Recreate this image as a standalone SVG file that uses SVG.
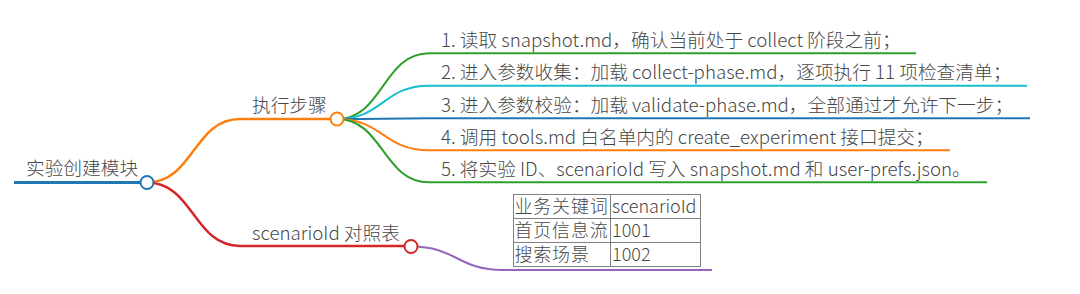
<svg xmlns="http://www.w3.org/2000/svg" width="1080" height="294" viewBox="0 0 1080 294">
<style>
text{font-family:"Noto Sans CJK SC","Noto Sans",sans-serif;fill:#474747;font-size:18.7px;font-weight:300}
.tb{font-size:18px;letter-spacing:0.8px}
.tl{font-size:18px}
.c{fill:#fff;stroke-width:2}
path{fill:none}
.l0{stroke-width:3}
.l1{stroke-width:2.5}
.l2{stroke-width:2}
.grid{stroke:#808080;stroke-width:1;fill:none}
</style>
<rect width="1080" height="294" fill="#fff"/>
<g id="connectors">
<path class="l1" stroke="#ff7f0e" d="M147,182.5 C193.5,182.5 193.5,119 240,119"/>
<path class="l1" stroke="#d62728" d="M147,182.5 C193.5,182.5 193.5,246 240,246"/>
<path class="l2" stroke="#2ca02c" d="M337,119 C383,119 383,53.3 429,53.3"/>
<path class="l2" stroke="#17becf" d="M337,119 C383,119 383,85.7 429,85.7"/>
<path class="l2" stroke="#1f77b4" d="M337,119 C383,119 383,118.3 429,118.3"/>
<path class="l2" stroke="#ff7f0e" d="M337,119 C383,119 383,150.3 429,150.3"/>
<path class="l2" stroke="#2ca02c" d="M337,119 C383,119 383,182.3 429,182.3"/>
<path class="l2" stroke="#9467bd" d="M411,246.5 C457,246.5 457,270 503,270"/>
</g>
<g id="root">
<path class="l0" stroke="#1f77b4" d="M14,182.5 H147"/>
<text x="26" y="175">实验创建模块</text>
<circle class="c" stroke="#1f77b4" cx="147" cy="182.5" r="6.5"/>
</g>
<g id="steps">
<path class="l1" stroke="#ff7f0e" d="M240,119 H337"/>
<text x="252" y="112">执行步骤</text>
<circle class="c" stroke="#ff7f0e" cx="337" cy="119" r="6.5"/>
</g>
<g id="step1">
<path class="l2" stroke="#2ca02c" d="M429,53.3 H916"/>
<text x="441" y="46.7">1. 读取 snapshot.md，确认当前处于 collect 阶段之前；</text>
</g>
<g id="step2">
<path class="l2" stroke="#17becf" d="M429,85.7 H1027"/>
<text x="441" y="79">2. 进入参数收集：加载 collect-phase.md，逐项执行 11 项检查清单；</text>
</g>
<g id="step3">
<path class="l2" stroke="#1f77b4" d="M429,118.3 H1030"/>
<text x="441" y="111.5">3. 进入参数校验：加载 validate-phase.md，全部通过才允许下一步；</text>
</g>
<g id="step4">
<path class="l2" stroke="#ff7f0e" d="M429,150.3 H950"/>
<text x="441" y="143.6">4. 调用 tools.md 白名单内的 create_experiment 接口提交；</text>
</g>
<g id="step5">
<path class="l2" stroke="#2ca02c" d="M429,182.3 H987"/>
<text x="441" y="175.6">5. 将实验 ID、scenarioId 写入 snapshot.md 和 user-prefs.json。</text>
</g>
<g id="mapping">
<path class="l1" stroke="#d62728" d="M240,246 H411"/>
<text x="252" y="239.5">scenarioId 对照表</text>
<circle class="c" stroke="#d62728" cx="411" cy="246.5" r="6.5"/>
</g>
<g id="table">
<path class="l2" stroke="#9467bd" d="M503,270 H712"/>
<rect class="grid" x="513.5" y="194.5" width="187" height="72"/>
<path class="grid" d="M610.5,194.5 V266.5 M513.5,218.5 H700.5 M513.5,242.5 H700.5"/>
<text class="tb" x="514.5" y="212.5">业务关键词</text>
<text class="tl" x="612" y="212.5">scenarioId</text>
<text class="tb" x="514.5" y="237">首页信息流</text>
<text class="tl" x="612" y="237">1001</text>
<text class="tb" x="514.5" y="261">搜索场景</text>
<text class="tl" x="612" y="261">1002</text>
</g>
</svg>
